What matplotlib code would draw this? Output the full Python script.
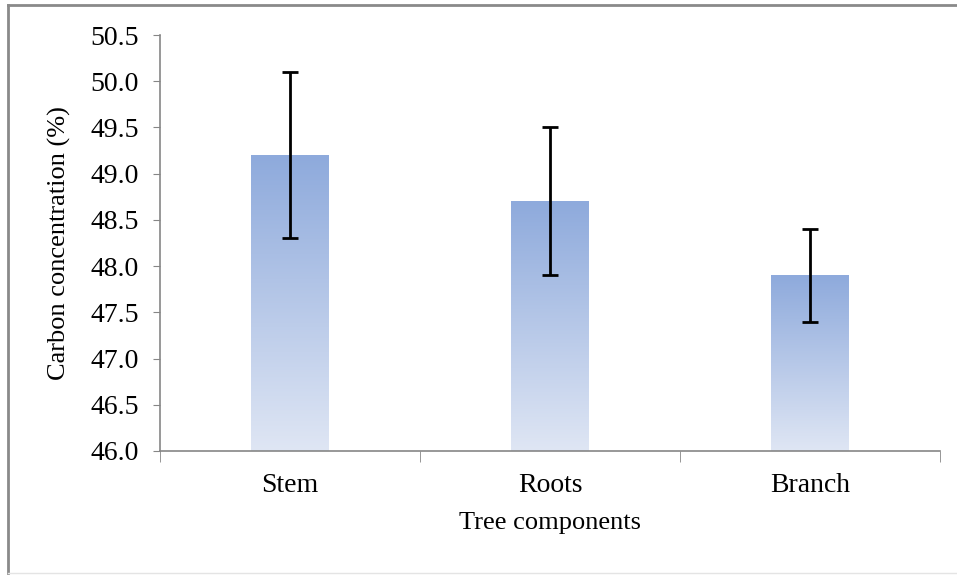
import matplotlib.pyplot as plt
from matplotlib.colors import LinearSegmentedColormap
from matplotlib.lines import Line2D
import numpy as np

# Data
components = ['Stem', 'Roots', 'Branch']
carbon = [49.2, 48.7, 47.9]
errors = [0.9, 0.8, 0.5]
y_ticks = [46.0, 46.5, 47.0, 47.5, 48.0, 48.5, 49.0, 49.5, 50.0, 50.5]

plt.rcParams['font.family'] = ['Liberation Serif', 'DejaVu Serif']

fig = plt.figure(figsize=(9.57, 5.75), dpi=100)
ax = fig.add_axes([0.1672, 0.2157, 0.815, 0.7234])

# outer frame like the pasted Excel chart (left and top strong, bottom faint)
W, H = 957, 575
fig.lines.append(Line2D([8 / W, 8 / W], [1 - 5 / H, 1 - 573 / H], transform=fig.transFigure,
                        color='#8a8a8a', linewidth=2))
fig.lines.append(Line2D([8 / W, 1], [1 - 5 / H, 1 - 5 / H], transform=fig.transFigure,
                        color='#8a8a8a', linewidth=2))
fig.lines.append(Line2D([8 / W, 1], [1 - 573 / H, 1 - 573 / H], transform=fig.transFigure,
                        color='#e4e4e4', linewidth=1))

cmap = LinearSegmentedColormap.from_list('bar', ['#dfe6f4', '#8eaadc'])
grad = np.linspace(0, 1, 256).reshape(-1, 1)

x = np.arange(len(components))
width = 0.3
ymin = y_ticks[0]

for xi, val in zip(x, carbon):
    ax.imshow(grad, cmap=cmap, origin='lower', aspect='auto',
              extent=[xi - width / 2, xi + width / 2, ymin, val], zorder=2)

ax.errorbar(x, carbon, yerr=errors, fmt='none', ecolor='black',
            elinewidth=2, capsize=6, capthick=2, zorder=3)

ax.set_xlim(-0.5, len(components) - 0.5)
ax.set_ylim(ymin, y_ticks[-1])
ax.set_yticks(y_ticks)
ax.set_yticklabels([f'{t:.1f}' for t in y_ticks])

ax.set_xticks(x)
ax.set_xticklabels(components)
ax.set_xticks(np.arange(len(components) + 1) - 0.5, minor=True)
ax.tick_params(axis='x', which='major', length=0, pad=16, labelsize=20)
ax.tick_params(axis='x', which='minor', length=8, direction='out', color='#868686')
ax.tick_params(axis='y', length=5, direction='out', color='#868686', labelsize=20, pad=10)

for side in ['top', 'right']:
    ax.spines[side].set_visible(False)
for side in ['left', 'bottom']:
    ax.spines[side].set_color('#868686')
    ax.spines[side].set_linewidth(1.2)

ax.set_xlabel('Tree components', fontsize=19, labelpad=10)
ax.set_ylabel('Carbon concentration (%)', fontsize=19, labelpad=14)

fig.savefig('out.png', dpi=100)
